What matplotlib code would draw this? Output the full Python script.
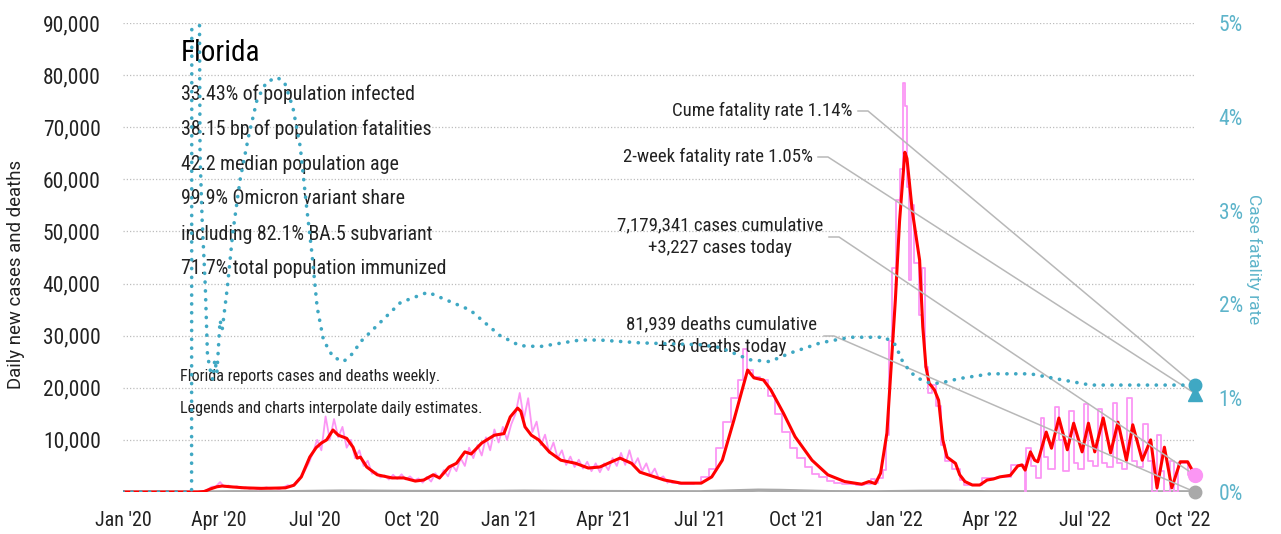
import matplotlib
matplotlib.use("Agg")
import matplotlib.pyplot as plt
import matplotlib.dates as mdates
import pandas as pd

plt.rcParams['font.family'] = ['Liberation Sans Narrow', 'Roboto Condensed', 'DejaVu Sans']
plt.rcParams['font.stretch'] = 'condensed'

# 7-day average of new cases (red)
avg_cases = [
    ('2020-01-01', 0), ('2020-03-12', 0), ('2020-03-18', 100), ('2020-03-24', 600), ('2020-03-30', 1000),
    ('2020-04-04', 1150), ('2020-04-12', 1000), ('2020-04-25', 800), ('2020-05-11', 700), ('2020-05-25', 750),
    ('2020-06-03', 800), ('2020-06-11', 1300), ('2020-06-18', 2900), ('2020-06-26', 6700), ('2020-07-02', 8500),
    ('2020-07-07', 9400), ('2020-07-12', 10000), ('2020-07-18', 11900), ('2020-07-23', 10900), ('2020-07-31', 10300),
    ('2020-08-06', 8600), ('2020-08-10', 6500), ('2020-08-13', 6700), ('2020-08-19', 4800), ('2020-08-29', 3300),
    ('2020-09-12', 2700), ('2020-09-23', 2700), ('2020-10-04', 2100), ('2020-10-12', 2300), ('2020-10-21', 3300),
    ('2020-10-27', 2700), ('2020-11-05', 4800), ('2020-11-12', 5500), ('2020-11-20', 7700), ('2020-11-26', 7300),
    ('2020-12-06', 9400), ('2020-12-18', 10900), ('2020-12-27', 11200), ('2021-01-02', 14400), ('2021-01-09', 16100),
    ('2021-01-12', 15500), ('2021-01-16', 12500), ('2021-01-22', 10900), ('2021-01-29', 10000), ('2021-02-08', 7700),
    ('2021-02-19', 6100), ('2021-03-05', 5500), ('2021-03-17', 4600), ('2021-03-28', 4800), ('2021-04-08', 5800),
    ('2021-04-16', 6500), ('2021-04-27', 5500), ('2021-05-05', 3800), ('2021-05-28', 2300), ('2021-06-13', 1700),
    ('2021-07-02', 1700), ('2021-07-12', 2900), ('2021-07-22', 6100), ('2021-08-02', 13800), ('2021-08-09', 19000),
    ('2021-08-15', 23400), ('2021-08-21', 21900), ('2021-08-30', 21500), ('2021-09-06', 19600), ('2021-09-18', 15100),
    ('2021-09-29', 10600), ('2021-10-15', 6100), ('2021-10-30', 3300), ('2021-11-15', 2000), ('2021-12-01', 1500),
    ('2021-12-08', 2000), ('2021-12-14', 1600), ('2021-12-19', 3600), ('2021-12-25', 11300), ('2021-12-29', 24000),
    ('2022-01-02', 36800), ('2022-01-06', 52000), ('2022-01-11', 65200), ('2022-01-13', 64000), ('2022-01-18', 54000),
    ('2022-01-25', 44500), ('2022-01-28', 31700), ('2022-01-31', 24000), ('2022-02-03', 20900), ('2022-02-08', 19600),
    ('2022-02-12', 17600), ('2022-02-16', 10000), ('2022-02-20', 6700), ('2022-02-28', 5500), ('2022-03-04', 3300),
    ('2022-03-09', 2000), ('2022-03-16', 1340), ('2022-03-23', 1340), ('2022-03-30', 2300), ('2022-04-05', 2500),
    ('2022-04-11', 2900), ('2022-04-21', 3200), ('2022-04-28', 5000), ('2022-05-02', 5200), ('2022-05-05', 4200),
    ('2022-05-10', 7700), ('2022-05-14', 6100), ('2022-05-17', 5800), ('2022-05-25', 11500), ('2022-05-30', 8400),
    ('2022-06-06', 14200), ('2022-06-14', 8100), ('2022-06-20', 13200), ('2022-06-28', 7700), ('2022-07-04', 13200),
    ('2022-07-10', 7700), ('2022-07-18', 14200), ('2022-07-25', 7500), ('2022-08-01', 13400), ('2022-08-09', 6100),
    ('2022-08-15', 12900), ('2022-08-24', 6100), ('2022-09-01', 10000), ('2022-09-07', 800), ('2022-09-14', 8600),
    ('2022-09-21', 800), ('2022-09-29', 5800), ('2022-10-06', 5800), ('2022-10-13', 3227),
]

# daily cases (pink), every 4 days from 2020-03-01 to 2021-05-31
daily_early_start = '2020-03-01'
daily_early = [
    0, 5, 10, 40, 150, 400, 1000, 1050,
    1900, 1000, 1250, 900, 1100, 700, 900, 600,
    800, 500, 700, 900, 600, 800, 500,
    900, 1300, 1100, 1900, 2800, 4000, 5500, 7500,
    10000, 8000, 14500, 10000, 14000, 10500, 12500, 8500,
    10000, 6500, 8000, 5000, 6000, 3500, 3800,
    2800, 3200, 2400, 3300, 2500, 3400, 2400, 3000,
    2200, 2600, 1800, 2900, 2000, 3600, 2500, 4200,
    3000, 5200, 4000, 6500, 5000, 8500, 6500,
    9000, 7000, 10500, 8000, 12000, 9500, 12500, 10000,
    13000, 15000, 19000, 14000, 18000, 11500, 13500, 9000,
    11000, 7500, 9500, 6500, 8000, 5200, 6800,
    4800, 6200, 4500, 5800, 4000, 5500, 3800,
    5500, 4200, 6500, 5000, 7500, 5200, 8000, 5000,
    6500, 4000, 5500, 3200, 4500, 2500, 3000, 1800,
]

# daily cases (pink) after the switch to weekly / biweekly reports, drawn as steps
daily_late = [
    ('2021-06-01', 2000), ('2021-06-04', 1800), ('2021-06-11', 1600), ('2021-06-18', 1500), ('2021-06-25', 1800),
    ('2021-07-02', 2800), ('2021-07-09', 4500), ('2021-07-16', 8500), ('2021-07-23', 13500), ('2021-07-30', 18000),
    ('2021-08-06', 21500), ('2021-08-11', 27500), ('2021-08-14', 23500), ('2021-08-20', 22000), ('2021-08-27', 21500),
    ('2021-09-03', 18500), ('2021-09-10', 15000), ('2021-09-17', 11500), ('2021-09-24', 8500), ('2021-10-01', 6500),
    ('2021-10-08', 4800), ('2021-10-15', 3500), ('2021-10-22', 2800), ('2021-10-29', 2200), ('2021-11-05', 1800),
    ('2021-11-12', 1600), ('2021-11-19', 1500), ('2021-11-26', 1400), ('2021-12-03', 1500), ('2021-12-10', 2400),
    ('2021-12-14', 1700), ('2021-12-17', 2600), ('2021-12-21', 4300), ('2021-12-24', 11000), ('2021-12-27', 29000),
    ('2021-12-30', 43000), ('2022-01-03', 56000), ('2022-01-06', 62000), ('2022-01-09', 78500), ('2022-01-11', 74000),
    ('2022-01-13', 58500), ('2022-01-15', 40700), ('2022-01-17', 55000), ('2022-01-20', 44000), ('2022-01-24', 34000),
    ('2022-01-27', 43000), ('2022-01-30', 24000), ('2022-02-02', 19000), ('2022-02-06', 20500), ('2022-02-10', 16500),
    ('2022-02-14', 9000), ('2022-02-18', 6000), ('2022-02-25', 4500), ('2022-03-04', 2300), ('2022-03-08', 1300),
    ('2022-03-25', 2600), ('2022-04-08', 2900), ('2022-04-22', 5200), ('2022-05-05', 0), ('2022-05-06', 8400),
    ('2022-05-11', 5000), ('2022-05-15', 2700), ('2022-05-20', 14200), ('2022-05-23', 6700), ('2022-05-27', 4500),
    ('2022-06-02', 16300), ('2022-06-06', 10000), ('2022-06-10', 4000), ('2022-06-16', 15500), ('2022-06-20', 5500),
    ('2022-06-24', 4500), ('2022-06-30', 16800), ('2022-07-04', 6000), ('2022-07-08', 5000), ('2022-07-13', 16000),
    ('2022-07-17', 5500), ('2022-07-22', 4800), ('2022-07-27', 17000), ('2022-07-31', 5500), ('2022-08-05', 4500),
    ('2022-08-10', 18000), ('2022-08-14', 6000), ('2022-08-19', 4800), ('2022-08-25', 13000), ('2022-08-29', 6000),
    ('2022-09-02', 0), ('2022-09-07', 11000), ('2022-09-11', 4000), ('2022-09-14', 0), ('2022-09-19', 6000),
    ('2022-09-23', 0), ('2022-09-27', 5600), ('2022-10-06', 3300), ('2022-10-13', 3227),
]

# daily deaths (gray)
daily_deaths = [
    ('2020-01-01', 0), ('2020-03-15', 0), ('2020-04-15', 50), ('2020-06-01', 40), ('2020-07-25', 180),
    ('2020-08-15', 170), ('2020-10-01', 100), ('2020-12-01', 80), ('2021-01-15', 160), ('2021-03-01', 100),
    ('2021-05-01', 60), ('2021-07-01', 40), ('2021-08-25', 350), ('2021-09-15', 300), ('2021-11-01', 60),
    ('2021-12-15', 30), ('2022-01-25', 130), ('2022-02-20', 150), ('2022-04-01', 40), ('2022-07-01', 50),
    ('2022-10-13', 36),
]

# case fatality rate in % (blue dotted, right axis)
fatality_rate = [
    ('2020-01-01', 0), ('2020-03-06', 0), ('2020-03-07', 25), ('2020-03-12', 25), ('2020-03-13', 6.5),
    ('2020-03-14', 3.6), ('2020-03-16', 2.9), ('2020-03-19', 2.19), ('2020-03-21', 1.48), ('2020-03-23', 1.33),
    ('2020-03-26', 1.2), ('2020-03-28', 1.41), ('2020-03-30', 1.27), ('2020-04-02', 1.83), ('2020-04-04', 1.73),
    ('2020-04-09', 2.19), ('2020-04-14', 2.76), ('2020-04-21', 3.33), ('2020-04-29', 3.79), ('2020-05-07', 4.18),
    ('2020-05-16', 4.37), ('2020-05-26', 4.42), ('2020-06-02', 4.37), ('2020-06-10', 4.10), ('2020-06-17', 3.68),
    ('2020-06-23', 3.04), ('2020-06-28', 2.55), ('2020-07-03', 1.97), ('2020-07-09', 1.62), ('2020-07-18', 1.44),
    ('2020-07-28', 1.39), ('2020-08-06', 1.48), ('2020-08-13', 1.60), ('2020-09-20', 2.02), ('2020-10-16', 2.13),
    ('2020-11-25', 1.94), ('2020-12-23', 1.67), ('2021-01-11', 1.56), ('2021-01-30', 1.55), ('2021-03-09', 1.62),
    ('2021-03-28', 1.62), ('2021-05-05', 1.59), ('2021-07-01', 1.57), ('2021-07-20', 1.54), ('2021-08-17', 1.41),
    ('2021-09-05', 1.39), ('2021-09-24', 1.48), ('2021-10-23', 1.59), ('2021-11-20', 1.65), ('2021-12-23', 1.65),
    ('2022-01-02', 1.57), ('2022-01-08', 1.41), ('2022-01-16', 1.28), ('2022-01-24', 1.21), ('2022-02-04', 1.16),
    ('2022-02-13', 1.16), ('2022-03-04', 1.21), ('2022-04-02', 1.26), ('2022-05-10', 1.26), ('2022-06-07', 1.20),
    ('2022-07-06', 1.14), ('2022-10-13', 1.14),
]

end_date = '2022-10-13'
today_cases = 3227
today_deaths = 36
cume_rate = 1.14
twoweek_rate = 1.05

title = 'Florida'
stats = [
    '33.43% of population infected',
    '38.15 bp of population fatalities',
    '42.2 median population age',
    '99.9% Omicron variant share',
    'including 82.1% BA.5 subvariant',
    '71.7% total population immunized',
]
notes = [
    'Florida reports cases and deaths weekly.',
    'Legends and charts interpolate daily estimates.',
]
label_cume = 'Cume fatality rate 1.14%'
label_2wk = '2-week fatality rate 1.05%'
label_cases = '7,179,341 cases cumulative\n+3,227 cases today'
label_deaths = '81,939 deaths cumulative\n+36 deaths today'

RED = '#ff0000'
PINK = '#fb96f4'
BLUE = '#3fa8c3'
BLUE_TXT = '#5db4ca'
GRAY = '#a9a9a9'
LEAD = '#b8b8b8'
INK = '#222222'


def unzip(pairs):
    d, v = zip(*pairs)
    return pd.to_datetime(list(d)), list(v)


fig = plt.figure(figsize=(12.81, 5.34), dpi=100)
# axes box in pixels: x 123..1195, y 23..492
ax = fig.add_axes([123 / 1281, 42 / 534, 1072 / 1281, 469 / 534])
ax2 = ax.twinx()

x0 = pd.Timestamp('2020-01-01')
x1 = pd.Timestamp(end_date)

# deaths
d, v = unzip(daily_deaths)
ax.plot(d, v, color=GRAY, lw=2.4, zorder=3)

# daily cases
d_early = pd.date_range(daily_early_start, periods=len(daily_early), freq='4D')
ax.plot(d_early, daily_early, color=PINK, lw=1.3, zorder=3)
d, v = unzip(daily_late)
ax.plot(d, v, color=PINK, lw=1.3, drawstyle='steps-post', zorder=3)

# 7-day average
d, v = unzip(avg_cases)
ax.plot(d, v, color=RED, lw=2.2, zorder=4)

# fatality rate
d, v = unzip(fatality_rate)
ax2.plot(d, v, color=BLUE, lw=2.6, linestyle=(0, (0.05, 2.4)),
         dash_capstyle='round', zorder=3)

# end markers
xe = pd.Timestamp(end_date)
ax.plot([xe], [0], 'o', color=GRAY, ms=9, clip_on=False, zorder=6)
ax.plot([xe], [today_cases], 'o', color=PINK, ms=10, clip_on=False, zorder=6)
ax2.plot([xe], [cume_rate], 'o', color=BLUE, ms=9, clip_on=False, zorder=6)
ax2.plot([xe], [twoweek_rate], '^', color=BLUE, ms=10, clip_on=False, zorder=6)

ax.set_xlim(x0, x1)
ax2.set_xlim(x0, x1)
ax.set_ylim(0, 90000)
ax2.set_ylim(0, 5)

ax.set_yticks(range(10000, 90001, 10000))
ax.set_yticklabels([f'{t:,}' for t in range(10000, 90001, 10000)])
ax.yaxis.grid(True, linestyle=(0, (1, 1.6)), color='#bdbdbd', lw=0.9)
ax.set_axisbelow(True)
ax2.set_yticks(range(0, 6))
ax2.set_yticklabels([f'{t}%' for t in range(0, 6)])

ax.xaxis.set_major_locator(mdates.MonthLocator(bymonth=[1, 4, 7, 10]))
ax.xaxis.set_major_formatter(mdates.DateFormatter("%b '%y"))

ax.tick_params(axis='y', length=0, pad=16, labelsize=15.5, labelcolor=INK)
ax.tick_params(axis='x', length=0, pad=14, labelsize=14.5, labelcolor=INK)
ax2.tick_params(axis='y', length=0, pad=17, labelsize=15.5, labelcolor=BLUE_TXT)
for a in (ax, ax2):
    for s in a.spines.values():
        s.set_visible(False)

fig.text(16 / 1281, 1 - 274 / 534, 'Daily new cases and deaths', rotation=90,
         ha='center', va='center', fontsize=13.4, family='Roboto', stretch='normal', color=INK)
fig.text(1254 / 1281, 1 - 259 / 534, 'Case fatality rate', rotation=270,
         ha='center', va='center', fontsize=12.5, family='Roboto', stretch='normal', color=BLUE_TXT)


def axf(px, py):
    return (px - 123) / 1072, (492 - py) / 469


T = ax.transAxes
ax.text(*axf(181, 53), title, transform=T, fontsize=21, ha='left', va='center', color='black', zorder=7)
for i, s in enumerate(stats):
    ax.text(*axf(181, 94 + 35 * i), s, transform=T, fontsize=14.3, ha='left', va='center',
            color=INK, zorder=7)
for i, s in enumerate(notes):
    ax.text(*axf(180, 377 + 31.5 * i), s, transform=T, fontsize=11.7, ha='left', va='center',
            color=INK, zorder=7)

ax.text(*axf(853, 111), label_cume, transform=T, fontsize=13.5, ha='right', va='center', color=INK)
ax.text(*axf(813, 157), label_2wk, transform=T, fontsize=13.5, ha='right', va='center', color=INK)
ax.text(*axf(720, 237), label_cases, transform=T, fontsize=13.6, ha='center', va='center',
        color=INK, linespacing=1.35)
ax.text(*axf(722, 336), label_deaths, transform=T, fontsize=13.6, ha='center', va='center',
        color=INK, linespacing=1.35)

# leader lines: short stub from the label, then straight to the end marker
fig.canvas.draw()
inv = ax.transAxes.inverted()
leaders = [
    (ax2, cume_rate, 858, 111),
    (ax2, twoweek_rate, 818, 157),
    (ax, today_cases, 829, 237),
    (ax, 0, 824, 336),
]
for axis, val, px, py in leaders:
    ex, ey = inv.transform(axis.transData.transform((mdates.date2num(xe), val)))
    sx, sy = axf(px, py)
    mx = axf(px + 10, py)[0]
    ax.plot([sx, mx, ex], [sy, sy, ey], transform=ax.transAxes, color=LEAD,
            lw=1.1, clip_on=False, zorder=5)

fig.savefig('out.png', dpi=100)
